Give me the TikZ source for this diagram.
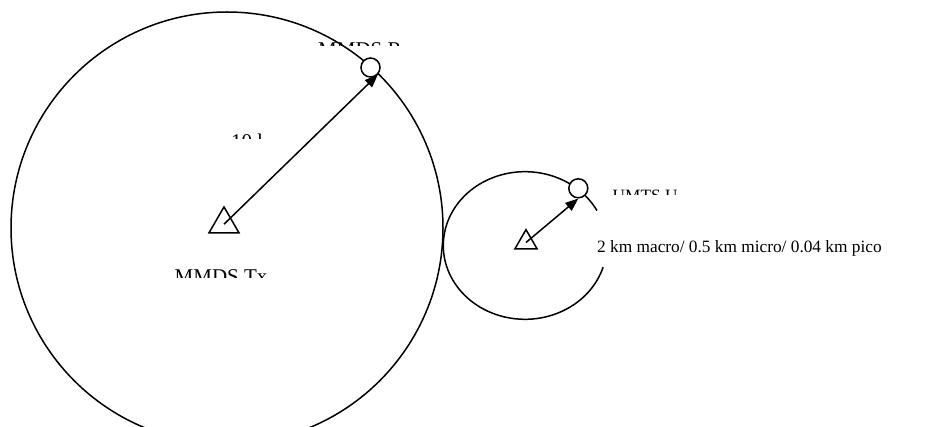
\documentclass[tikz,border=0pt]{standalone}
\usepackage{fontspec}
\setmainfont{Liberation Serif}
\usetikzlibrary{arrows.meta,shapes.geometric}
\begin{document}
\begin{tikzpicture}[x=1pt,y=-1pt,
  line/.style={line width=1.5pt},
  site/.style={draw,line width=1.5pt,regular polygon,regular polygon sides=3,inner sep=0pt},
  rcv/.style={draw,line width=1.5pt,circle,minimum size=19pt,inner sep=0pt,fill=white},
  link/.style={line width=1.5pt,-{Triangle[length=13pt,width=10pt]}},
  biglabel/.style={font=\fontsize{21}{24}\selectfont,inner sep=0pt,anchor=base west},
  smalllabel/.style={font=\fontsize{17.3}{20}\selectfont,inner sep=0pt,anchor=base west}]
\clip (0,0) rectangle (930,427);
% coverage areas
\draw[line] (227,228) circle[radius=216pt];
\draw[line] (525,245.5) ++(28.2:81.7pt and 73.8pt)
  arc[start angle=28.2,end angle=342.9,x radius=81.7pt,y radius=73.8pt];
% sites
\node[site,minimum size=34.6pt] (tx) at (224,224.2) {};
\node[site,minimum size=25.7pt] (bs) at (526,242.5) {};
\node[rcv] (rx) at (370.5,67.5) {};
\node[rcv] (ue) at (578.3,188.3) {};
% links
\draw[link] (tx.center) -- (rx.south east);
\draw[link] (bs.center) -- (ue.south);
% clipped labels
\begin{scope}
  \clip (310,30) rectangle (403,46);
  \node[biglabel] (lrx) at (318,56.6) {MMDS Rx};
\end{scope}
\begin{scope}
  \clip (225,120) rectangle (262,138.3);
  \node[biglabel] (ldist) at (231,148.2) {10 km};
\end{scope}
\begin{scope}
  \clip (165,260) rectangle (273,277.3);
  \node[biglabel] (ltx) at (174.5,283.9) {MMDS Tx};
\end{scope}
\begin{scope}
  \clip (605,180) rectangle (677,195);
  \node[smalllabel] (lue) at (612.5,201.5) {UMTS UE};
\end{scope}
\node[smalllabel] (lrange) at (597,253) {2 km macro/ 0.5 km micro/ 0.04 km pico};
\end{tikzpicture}
\end{document}
